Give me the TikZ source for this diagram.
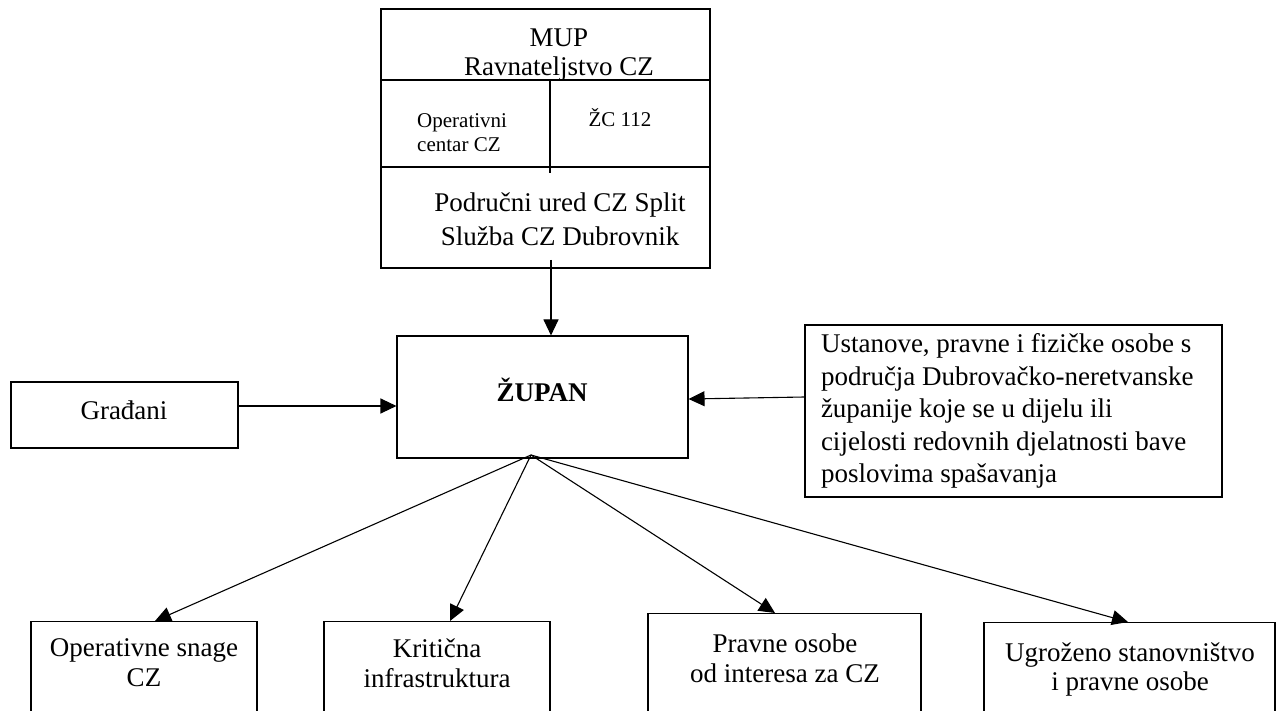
\documentclass[tikz,border=0pt]{standalone}
\usepackage{fontspec}
\setmainfont{Liberation Serif}
\usetikzlibrary{arrows.meta,calc}
\tikzset{
  box/.style={draw, line width=1.1pt, rectangle, inner sep=0pt},
  txt/.style={inner sep=0pt, align=center, font=\fontsize{27}{30}\selectfont},
  small/.style={inner sep=0pt, align=flush left, font=\fontsize{21}{24}\selectfont},
  rule/.style={line width=1.1pt},
  arr/.style={line width=1.1pt, -{Triangle[length=16pt,width=15pt]}},
}
\begin{document}
\begin{tikzpicture}[x=1pt,y=-1pt]
\useasboundingbox (0,0) rectangle (1277,711);
\clip (0,0) rectangle (1277,711);
\fill[white] (0,0) rectangle (1277,711);

% top compound box
\node[box, minimum width=329pt, minimum height=259pt] (mup) at (545.5,138.5) {};
\draw[rule] (mup.west |- 0,80) -- (mup.east |- 0,80);
\draw[rule] (mup.west |- 0,167) -- (mup.east |- 0,167);
\coordinate (divtop) at (550,80);
\coordinate (divbot) at (550,173);
\draw[rule] (divtop) -- (divbot);
\node[txt, font=\fontsize{27}{29}\selectfont] (mupt) at (559,55) {MUP\\Ravnateljstvo CZ};
\node[small, anchor=west] (opc) at (417,133) {Operativni\\centar CZ};
\node[small] (zc) at (620,117.5) {ŽC 112};
\node[txt, font=\fontsize{27}{34}\selectfont] (podr) at (560,219) {Područni ured CZ Split\\Služba CZ Dubrovnik};
\coordinate (mupout) at (551,260);

% zupan
\node[box, minimum width=291pt, minimum height=122pt] (zupan) at (542.5,397) {};
\node[txt, font=\fontsize{27}{30}\selectfont\bfseries] (zupant) at (542,390) {ŽUPAN};
\coordinate (fan) at (531,455);

% gradjani
\node[box, minimum width=227pt, minimum height=66pt] (grad) at (124.5,415) {};
\node[txt] (gradt) at (124,410) {Građani};

% ustanove
\node[box, text width=385pt, inner xsep=16pt, minimum height=172pt, align=flush left,
      font=\fontsize{27}{32.5}\selectfont] (ust) at (1013.5,411)
  {Ustanove, pravne i fizičke osobe s\\područja Dubrovačko-neretvanske\\županije koje se u dijelu ili\\cijelosti redovnih djelatnosti bave\\poslovima spašavanja};

% bottom boxes
\node[box, anchor=north, minimum width=226pt, minimum height=130pt] (b1) at (144,621) {};
\node[box, anchor=north, minimum width=226pt, minimum height=130pt] (b2) at (437,621) {};
\node[box, anchor=north, minimum width=273pt, minimum height=130pt] (b3) at (784.5,613) {};
\node[box, anchor=north, minimum width=291pt, minimum height=130pt] (b4) at (1129.5,622) {};
\node[txt] (t1) at (144,663) {Operativne snage\\CZ};
\node[txt] (t2) at (437,663) {Kritična\\infrastruktura};
\node[txt] (t3) at (785,658) {Pravne osobe\\od interesa za CZ};
\node[txt, font=\fontsize{27}{29}\selectfont] (t4) at (1130,669) {Ugroženo stanovništvo\\i pravne osobe};

% connectors
\draw[arr] (mupout) -- (mupout |- zupan.north);
\draw[arr] (grad.east |- 0,406) -- (zupan.west |- 0,406);
\draw[arr] (ust.west |- 0,397) -- (zupan.east |- 0,399);
\draw[arr] (fan) -- ([xshift=11pt]b1.north);
\draw[arr] (fan) -- ([xshift=13pt]b2.north);
\draw[arr] (fan) -- ([xshift=-9.5pt]b3.north);
\draw[arr] (fan) -- ([xshift=-1.5pt]b4.north);
\end{tikzpicture}
\end{document}
